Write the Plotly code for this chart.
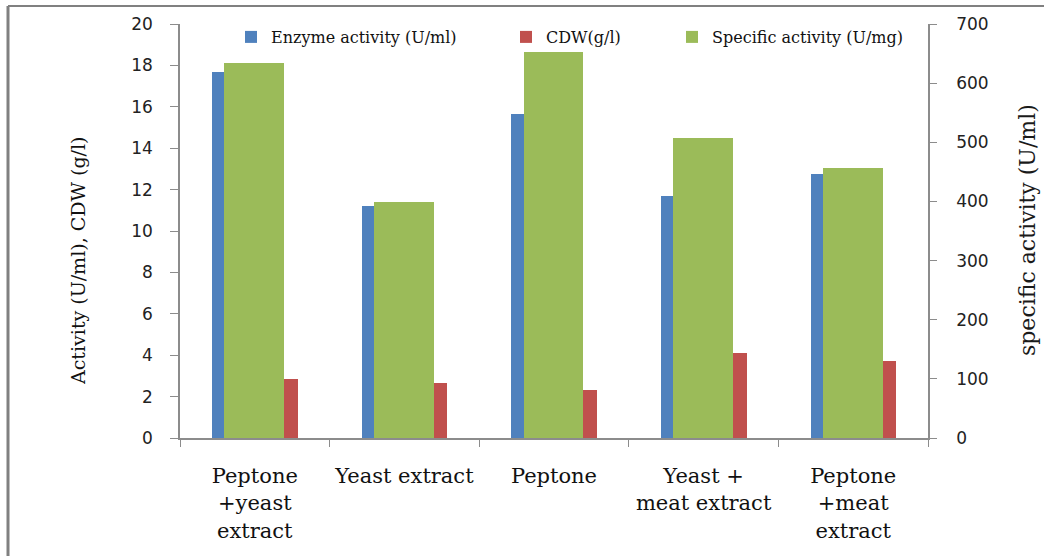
import plotly.graph_objects as go

# Nitrogen sources tested
categories = [
    "Peptone<br>+yeast<br>extract",
    "Yeast extract",
    "Peptone",
    "Yeast +<br>meat extract",
    "Peptone<br>+meat<br>extract",
]
enzyme_activity = [17.70, 11.22, 15.65, 11.67, 12.77]   # U/ml
cdw = [2.85, 2.66, 2.33, 4.12, 3.73]                     # g/l
specific_activity = [633.5, 398.7, 653.2, 506.9, 456.2]  # U/mg

left_ticks = list(range(0, 21, 2))
right_ticks = list(range(0, 701, 100))

BLUE = "#4F81BD"
RED = "#C0504D"
GREEN = "#9BBB59"
AXIS = "#8c8c8c"

W, H = 1044, 556
L, R, T, B = 180, 116, 24, 118

fig = go.Figure()

fig.add_trace(go.Bar(
    x=categories, y=enzyme_activity, name="Enzyme activity (U/ml)",
    marker=dict(color=BLUE, line=dict(width=0)),
    offset=-0.285, width=0.083, yaxis="y", legend="legend",
))
fig.add_trace(go.Bar(
    x=categories, y=cdw, name="CDW(g/l)",
    marker=dict(color=RED, line=dict(width=0)),
    offset=0.197, width=0.09, yaxis="y", legend="legend2",
))
fig.add_trace(go.Bar(
    x=categories, y=specific_activity, name="Specific activity (U/mg)",
    marker=dict(color=GREEN, line=dict(width=0)),
    offset=-0.203, width=0.4, yaxis="y2", legend="legend3",
))

tick_font = dict(family="DejaVu Sans", size=17, color="#222222")
legend_font = dict(family="DejaVu Serif", size=16, color="#111111")


def legend_at(x_px):
    return dict(
        orientation="h",
        xref="container", yref="container",
        x=x_px / W, y=1 - 37 / H,
        xanchor="left", yanchor="middle",
        font=legend_font,
        bgcolor="rgba(0,0,0,0)",
        itemwidth=30,
    )


fig.update_layout(
    width=W, height=H,
    margin=dict(l=L, r=R, t=T, b=B, autoexpand=False),
    paper_bgcolor="white", plot_bgcolor="white",
    barmode="overlay",
    bargap=0,
    xaxis=dict(
        type="category",
        categoryorder="array", categoryarray=categories,
        range=[-0.5, 4.5],
        showline=True, linecolor=AXIS, linewidth=1.5,
        ticks="outside", tickson="boundaries", ticklen=7, tickcolor=AXIS,
        tickfont=dict(family="DejaVu Serif", size=21, color="#111111"),
        ticklabelstandoff=18,
        showgrid=False, zeroline=False,
    ),
    yaxis=dict(
        range=[0, 20], tickvals=left_ticks,
        showline=True, linecolor=AXIS, linewidth=1.5,
        ticks="outside", ticklen=8, tickcolor=AXIS,
        tickfont=tick_font, ticklabelstandoff=14,
        showgrid=False, zeroline=False,
    ),
    yaxis2=dict(
        range=[0, 700], tickvals=right_ticks,
        overlaying="y", side="right",
        showline=True, linecolor=AXIS, linewidth=1.5,
        ticks="outside", ticklen=7, tickcolor=AXIS,
        tickfont=tick_font, ticklabelstandoff=16,
        showgrid=False, zeroline=False,
    ),
    legend=legend_at(231),
    legend2=legend_at(506),
    legend3=legend_at(672),
    showlegend=True,
)

# Axis titles
fig.add_annotation(
    text="Activity (U/ml), CDW (g/l)", textangle=-90,
    xref="paper", yref="paper",
    x=(78 - L) / (W - L - R), y=(H - B - 261) / (H - T - B),
    xanchor="center", yanchor="middle", showarrow=False,
    font=dict(family="DejaVu Serif", size=19, color="#111111"),
)
fig.add_annotation(
    text="specific activity (U/ml)", textangle=-90,
    xref="paper", yref="paper",
    x=(1027 - L) / (W - L - R), y=(H - B - 230) / (H - T - B),
    xanchor="center", yanchor="middle", showarrow=False,
    font=dict(family="DejaVu Serif", size=22, color="#1a1a1a"),
)

# Page frame around the chart
pw, ph = W - L - R, H - T - B
fig.add_shape(type="line", xref="paper", yref="paper",
              x0=(8 - L) / pw, x1=(8 - L) / pw,
              y0=-B / ph, y1=(H - B - 6) / ph,
              line=dict(color="#808080", width=3))
fig.add_shape(type="line", xref="paper", yref="paper",
              x0=(8 - L) / pw, x1=(W - L) / pw,
              y0=(H - B - 6) / ph, y1=(H - B - 6) / ph,
              line=dict(color="#808080", width=2))

fig.write_html("out.html")
